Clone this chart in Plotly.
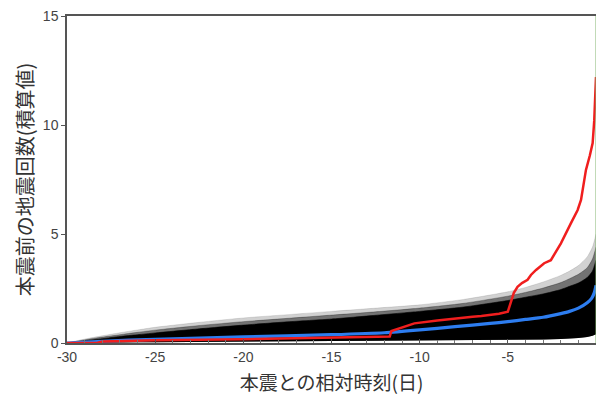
import plotly.graph_objects as go

# ---- data ----
band_days = [-30, -29, -28, -27, -26, -25, -22.5, -20, -17.5, -15, -12.5, -10, -7.5, -5, -4, -3, -2, -1.5, -1, -0.5, -0.2, 0]
band_lower = [0, 0, 0.01, 0.02, 0.03, 0.04, 0.06, 0.07, 0.08, 0.09, 0.1, 0.11, 0.12, 0.13, 0.14, 0.16, 0.18, 0.2, 0.23, 0.28, 0.33, 0.4]
band_dense = [0, 0.1, 0.2, 0.3, 0.38, 0.46, 0.65, 0.82, 0.97, 1.1, 1.27, 1.45, 1.65, 1.95, 2.1, 2.25, 2.45, 2.6, 2.75, 3.0, 3.3, 3.8]
band_mid = [0, 0.14, 0.27, 0.38, 0.49, 0.59, 0.8, 0.98, 1.13, 1.28, 1.43, 1.6, 1.82, 2.15, 2.32, 2.52, 2.77, 2.95, 3.15, 3.45, 3.85, 4.4]
band_outer = [0, 0.18, 0.33, 0.47, 0.6, 0.72, 0.95, 1.15, 1.3, 1.45, 1.6, 1.75, 2.0, 2.35, 2.55, 2.8, 3.1, 3.3, 3.55, 3.95, 4.4, 5.0]

mean_days = [-30, -28, -25, -20, -15, -12, -10, -8, -6, -5, -4, -3, -2, -1.5, -1, -0.5, -0.25, -0.1, 0]
mean_vals = [0, 0.08, 0.17, 0.28, 0.38, 0.47, 0.6, 0.75, 0.9, 0.98, 1.08, 1.18, 1.35, 1.45, 1.6, 1.85, 2.05, 2.3, 2.65]

obs_days = [-30, -28.3, -28, -25, -20, -15, -12, -11.7, -11.6, -11, -10.3, -9, -8.4, -7, -6.5, -5.5, -5.0, -4.85, -4.66, -4.45, -4.2, -3.88, -3.69, -3.4, -2.94, -2.56, -2.3, -1.99, -1.42, -1.04, -0.85, -0.57, -0.35, -0.19, -0.1, -0.04, 0]
obs_vals = [0, 0, 0.07, 0.13, 0.17, 0.23, 0.28, 0.3, 0.55, 0.72, 0.9, 1.03, 1.09, 1.2, 1.24, 1.34, 1.44, 1.8, 2.3, 2.58, 2.75, 2.9, 3.12, 3.35, 3.66, 3.8, 4.15, 4.57, 5.5, 6.1, 6.56, 7.94, 8.6, 9.17, 10.2, 11.5, 12.2]

x_ticks = [-30, -25, -20, -15, -10, -5, 0]
y_ticks = [0, 5, 10, 15]

x_title = "本震との相対時刻(日)"
y_title = "本震前の地震回数(積算値)"

fig = go.Figure()

layers = [
    (band_outer, "rgba(0,0,0,0.18)"),
    (band_mid, "rgba(0,0,0,0.45)"),
    (band_dense, "rgba(0,0,0,1)"),
]
for upper, col in layers:
    fig.add_trace(go.Scatter(x=band_days, y=band_lower, mode="lines",
                             line=dict(width=0, color=col), showlegend=False, hoverinfo="skip"))
    fig.add_trace(go.Scatter(x=band_days, y=upper, mode="lines", fill="tonexty",
                             fillcolor=col, line=dict(width=0.6, color=col, shape="spline", smoothing=0.6),
                             showlegend=False, hoverinfo="skip"))

fig.add_trace(go.Scatter(x=mean_days, y=mean_vals, mode="lines",
                         line=dict(color="rgb(45,125,240)", width=3.2, shape="spline", smoothing=0.5),
                         showlegend=False))
fig.add_trace(go.Scatter(x=obs_days, y=obs_vals, mode="lines",
                         line=dict(color="rgb(240,30,30)", width=2.5),
                         showlegend=False))

fig.add_shape(type="line", xref="x", yref="paper", x0=0, x1=0, y0=0, y1=1,
              line=dict(color="rgb(130,180,110)", width=1))

fig.update_layout(
    width=596, height=406,
    margin=dict(l=67, r=0, t=16, b=63),
    paper_bgcolor="white", plot_bgcolor="white",
    font=dict(family="Liberation Sans, Arial", size=14, color="#444"),
)
fig.update_xaxes(
    range=[-30, 0], tickvals=x_ticks, ticktext=[str(v) for v in x_ticks],
    ticks="inside", ticklen=4, tickcolor="#555", linecolor="#555", linewidth=1.5,
    showline=True, mirror=True, showgrid=False, zeroline=False, automargin=False,
    minor=dict(dtick=1, tick0=0, ticks="inside", ticklen=3, tickcolor="#777", showgrid=False),
    title=dict(text=x_title, font=dict(family="Noto Sans CJK JP", size=19, color="#333"), standoff=13),
)
fig.update_yaxes(
    range=[0, 15], tickvals=y_ticks, ticks="outside", ticklen=4, tickcolor="#555",
    linecolor="#555", linewidth=1.5, showline=True, showgrid=False, zeroline=False, automargin=False,
    title=dict(text=y_title, font=dict(family="Noto Sans CJK JP", size=20, color="#333"), standoff=4),
)

fig.write_html("out.html", config={"displayModeBar": False},
               post_script="document.body.style.margin='0';")
